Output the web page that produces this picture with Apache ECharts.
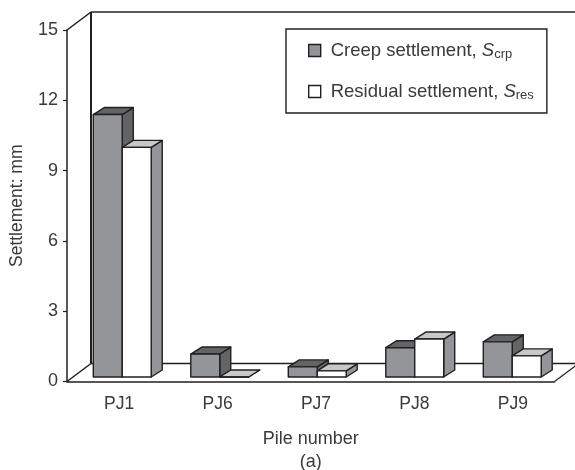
<!DOCTYPE html>
<html>
<head>
<meta charset="utf-8">
<style>html,body{margin:0;padding:0;background:#fff}#main{width:575px;height:470px}</style>
<script src="https://cdn.jsdelivr.net/npm/echarts@6/dist/echarts.min.js"></script>
</head>
<body>
<div id="main"></div>
<script>
const piles = ['PJ1', 'PJ6', 'PJ7', 'PJ8', 'PJ9'];
const creepValues = [11.2, 0.98, 0.43, 1.25, 1.5];
const residualValues = [9.8, 0, 0.26, 1.62, 0.9];
const yTicks = [0, 3, 6, 9, 12, 15];

const INK = '#231f20';
const TEXT = '#3a3a3c';
const FONT = '"Liberation Sans", Arial, sans-serif';

// pseudo-3D: wall depth, bar depth and the shift of bars into the floor
const WALL_DX = 24, WALL_DY = -18;
const BAR_DX = 11, BAR_DY = -7;
const SHIFT_X = 6.5, SHIFT_Y = -4.5;
const BAR_W = 0.297;

function barRenderer(side, front, top, flank) {
  return (params, api) => {
    const base = api.coord([api.value(0), 0]);
    const head = api.coord([api.value(0), api.value(1)]);
    const w = api.size([1, 0])[0] * BAR_W;
    const x0 = base[0] + SHIFT_X + (side < 0 ? -w : 0);
    const x1 = x0 + w;
    const y0 = base[1] + SHIFT_Y;
    const y1 = head[1] + SHIFT_Y;
    const line = { stroke: INK, lineWidth: 1.4, lineJoin: 'round' };
    return {
      type: 'group',
      children: [
        { type: 'polygon', shape: { points: [[x1, y0], [x1 + BAR_DX, y0 + BAR_DY], [x1 + BAR_DX, y1 + BAR_DY], [x1, y1]] }, style: { fill: flank, ...line } },
        { type: 'polygon', shape: { points: [[x0, y1], [x1, y1], [x1 + BAR_DX, y1 + BAR_DY], [x0 + BAR_DX, y1 + BAR_DY]] }, style: { fill: top, ...line } },
        { type: 'rect', shape: { x: x0, y: y1, width: w, height: y0 - y1 }, style: { fill: front, ...line } }
      ]
    };
  };
}

function wallRenderer(params, api) {
  const band = api.size([1, 0])[0];
  const first = api.coord([0, 0]);
  const last = api.coord([piles.length - 1, 0]);
  const bl = [first[0] - band / 2, first[1]];
  const tl = [bl[0], api.coord([0, 15])[1]];
  const br = [last[0] + band / 2, last[1]];
  const seg = (a, b, lw) => ({
    type: 'line',
    shape: { x1: a[0], y1: a[1], x2: b[0], y2: b[1] },
    style: { stroke: INK, lineWidth: lw }
  });
  const back = (p) => [p[0] + WALL_DX, p[1] + WALL_DY];
  return {
    type: 'group',
    children: [
      seg(back(bl), back(tl), 2),
      seg(back(tl), [back(br)[0] + 10, back(tl)[1]], 1.5),
      seg(back(bl), [back(br)[0] + 10, back(br)[1]], 1.5),
      seg(bl, back(bl), 1.5),
      seg(tl, back(tl), 1.5),
      seg(br, back(br), 1.2)
    ]
  };
}

const richText = {
  t: { fontFamily: FONT, fontSize: 18.5, color: TEXT, padding: [0, 0, 0, 5] },
  i: { fontFamily: FONT, fontSize: 18.5, fontStyle: 'italic', color: TEXT },
  s: { fontFamily: FONT, fontSize: 13, color: TEXT, verticalAlign: 'bottom', padding: [8, 0, 0, 0] }
};

const chart = echarts.init(document.getElementById('main'), null, { renderer: 'canvas' });
chart.setOption({
  animation: false,
  backgroundColor: '#fff',
  legend: {
    orient: 'vertical',
    left: 286,
    top: 29,
    padding: [12, 13, 11, 22],
    itemWidth: 12,
    itemHeight: 12,
    itemGap: 21,
    borderColor: INK,
    borderWidth: 1.4,
    selectedMode: false,
    data: [
      { name: 'Creep settlement', icon: 'rect', itemStyle: { color: '#939598', borderColor: INK, borderWidth: 1.4 } },
      { name: 'Residual settlement', icon: 'rect', itemStyle: { color: '#fff', borderColor: INK, borderWidth: 1.4 } }
    ],
    formatter: (name) => name === 'Creep settlement'
      ? '{t|Creep settlement, }{i|S}{s|crp}'
      : '{t|Residual settlement, }{i|S}{s|res}',
    textStyle: { rich: richText }
  },
  grid: [
    { left: 67, top: 30, width: 487.5, height: 351.5, outerBoundsMode: 'none' },
    { left: 70, top: 30, width: 492, height: 351.5, outerBoundsMode: 'none' }
  ],
  xAxis: [
    {
      type: 'category',
      gridIndex: 0,
      data: piles,
      name: 'Pile number\n(a)',
      nameLocation: 'middle',
      nameGap: 46,
      nameTextStyle: { fontFamily: FONT, fontSize: 18, color: TEXT, lineHeight: 23 },
      axisLine: { lineStyle: { color: INK, width: 1.5 } },
      axisTick: { show: false },
      axisLabel: { show: false }
    },
    {
      type: 'category',
      gridIndex: 1,
      data: piles,
      axisLine: { show: false },
      axisTick: { show: false },
      axisLabel: { fontFamily: FONT, fontSize: 17.5, color: TEXT, margin: 14 }
    }
  ],
  yAxis: [
    {
      type: 'value',
      gridIndex: 0,
      min: yTicks[0],
      max: yTicks[yTicks.length - 1],
      interval: 3,
      name: 'Settlement: mm',
      nameLocation: 'middle',
      nameGap: 41,
      nameTextStyle: { fontFamily: FONT, fontSize: 17.5, color: TEXT },
      axisLine: { show: true, lineStyle: { color: INK, width: 1.5 } },
      axisTick: { show: true, length: 4, lineStyle: { color: INK, width: 1.2 } },
      axisLabel: { fontFamily: FONT, fontSize: 18, color: TEXT, margin: 9 },
      splitLine: { show: false }
    },
    { type: 'value', gridIndex: 1, min: 0, max: 15, show: false }
  ],
  series: [
    {
      type: 'custom',
      name: 'wall',
      xAxisIndex: 0,
      yAxisIndex: 0,
      clip: false,
      z: 1,
      renderItem: wallRenderer,
      data: [[0, 0]]
    },
    {
      type: 'custom',
      name: 'Creep settlement',
      xAxisIndex: 0,
      yAxisIndex: 0,
      clip: false,
      z: 2,
      itemStyle: { color: '#939598' },
      renderItem: barRenderer(-1, '#939598', '#636466', '#636466'),
      encode: { x: 0, y: 1 },
      data: creepValues.map((v, i) => [i, v])
    },
    {
      type: 'custom',
      name: 'Residual settlement',
      xAxisIndex: 0,
      yAxisIndex: 0,
      clip: false,
      z: 3,
      itemStyle: { color: '#fff' },
      renderItem: barRenderer(1, '#fff', '#c7c8ca', '#939598'),
      encode: { x: 0, y: 1 },
      data: residualValues.map((v, i) => [i, v])
    }
  ]
});
</script>
</body>
</html>
